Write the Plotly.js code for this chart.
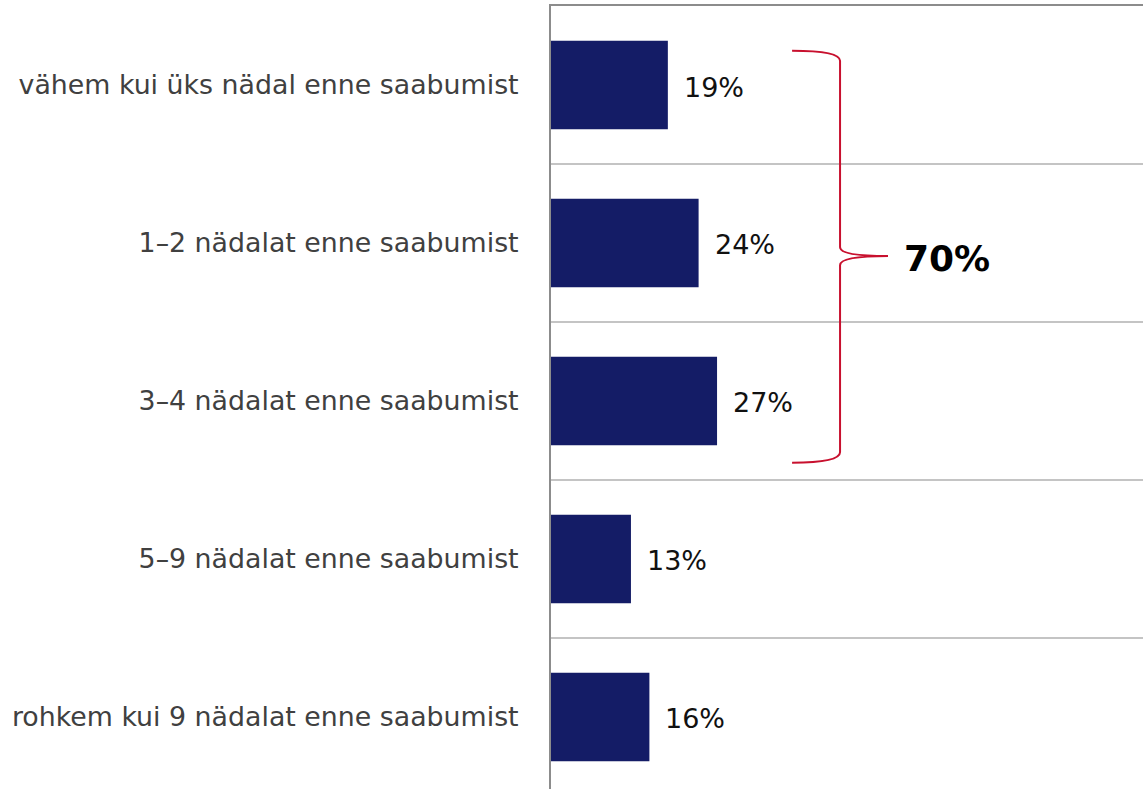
<!DOCTYPE html>
<html>
<head>
<meta charset="utf-8">
<script src="https://cdn.plot.ly/plotly-3.0.1.min.js"></script>
<style>html,body{margin:0;padding:0;background:#fff;}#chart{width:1143px;height:789px;}</style>
</head>
<body>
<div id="chart"></div>
<script>
const categories = [
  "vähem kui üks nädal enne saabumist",
  "1–2 nädalat enne saabumist",
  "3–4 nädalat enne saabumist",
  "5–9 nädalat enne saabumist",
  "rohkem kui 9 nädalat enne saabumist"
];
const values = [19, 24, 27, 13, 16];
const groupTotalLabel = "70%";

const barColor = "#141c66";
const braceColor = "#c8102e";

const trace = {
  type: "bar",
  orientation: "h",
  x: values,
  y: categories,
  width: 0.56,
  marker: {color: barColor, line: {width: 0}},
  hoverinfo: "none"
};

const annotations = values.map((v, i) => ({
  x: v, y: categories[i], xref: "x", yref: "y",
  text: v + "%", showarrow: false, xanchor: "left", xshift: 14, yshift: -2,
  font: {family: "DejaVu Sans", size: 27, color: "#111"}
}));
annotations.push({
  x: 57, y: 0.678, xref: "x", yref: "paper",
  text: "<b>" + groupTotalLabel + "</b>", showarrow: false, xanchor: "left", yanchor: "middle",
  font: {family: "DejaVu Sans", size: 36, color: "#000"}
});

const bx0 = 39.2, bx1 = 47.0, bx2 = 54.8;
const bracePath = [
  `M ${bx0},0.943`,
  `Q ${bx1},0.943 ${bx1},0.930`,
  `L ${bx1},0.692`,
  `Q ${bx1},0.6807 ${bx2},0.6807`,
  `Q ${bx1},0.6807 ${bx1},0.669`,
  `L ${bx1},0.430`,
  `Q ${bx1},0.4167 ${bx0},0.4167`
].join(" ");

const layout = {
  width: 1143, height: 789,
  margin: {l: 551, r: 0, t: 6, b: 0, pad: 0},
  paper_bgcolor: "#fff", plot_bgcolor: "#fff",
  showlegend: false,
  bargap: 0.44,
  xaxis: {
    range: [0, 96.26], side: "top",
    showgrid: false, zeroline: false,
    showline: true, linecolor: "#8c8c8c", linewidth: 2,
    showticklabels: false, ticks: ""
  },
  yaxis: {
    type: "category",
    range: [4.456, -0.5],
    tickson: "boundaries",
    showgrid: true, gridcolor: "#c4c4c4", gridwidth: 1.5,
    showline: true, linecolor: "#8c8c8c", linewidth: 2,
    ticks: "", ticklabelstandoff: 25,
    tickfont: {family: "DejaVu Sans", size: 26.8, color: "#404040"}
  },
  annotations: annotations,
  shapes: [{
    type: "path", xref: "x", yref: "paper", path: bracePath,
    line: {color: braceColor, width: 2}, fillcolor: "rgba(0,0,0,0)"
  }]
};

Plotly.newPlot("chart", [trace], layout, {staticPlot: true, displayModeBar: false});
</script>
</body>
</html>
